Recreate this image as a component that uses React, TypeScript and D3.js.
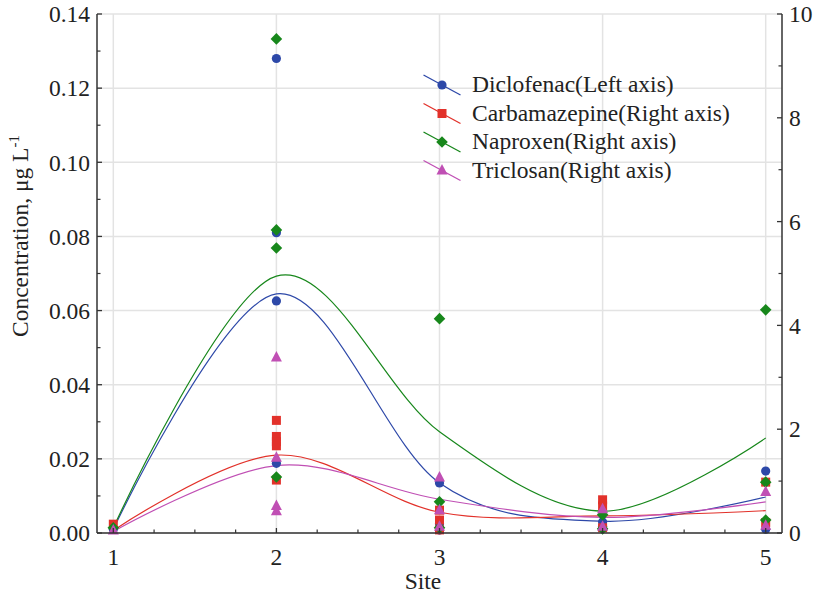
import React from "react";
import * as d3 from "d3";

const sites = [1, 2, 3, 4, 5];
const leftTicks = [0, 0.02, 0.04, 0.06, 0.08, 0.1, 0.12, 0.14];
const rightTicks = [0, 2, 4, 6, 8, 10];

// measured points per site (index 0 = site 1)
const diclofenacPts = [[0.001], [0.128, 0.081, 0.0626, 0.0188], [0.0135, 0.0025, 0.0008], [0.003, 0.0018], [0.0167, 0.001]];
const carbamazepinePts = [[0.17], [2.17, 1.86, 1.76, 1.68, 1.02], [0.44, 0.25, 0.06], [0.64, 0.52, 0.1], [0.98, 0.2]];
const naproxenPts = [[0.1], [9.52, 5.84, 5.49, 1.08], [4.13, 0.6, 0.1], [0.35, 0.08], [4.3, 0.98, 0.25]];
const triclosanPts = [[0.05], [3.38, 1.45, 0.52, 0.42], [1.07, 0.44, 0.12], [0.46, 0.12], [0.79, 0.14]];

// fitted curve values at each site
const diclofenacFit = [0.001, 0.0645, 0.0135, 0.0032, 0.0097];
const carbamazepineFit = [0.05, 1.5, 0.4, 0.33, 0.43];
const naproxenFit = [0.1, 4.95, 1.95, 0.42, 1.83];
const triclosanFit = [0.03, 1.3, 0.65, 0.3, 0.6];

const series = [
  { name: "Diclofenac(Left axis)", pts: diclofenacPts, fit: diclofenacFit, axis: "left", color: "#2d48a8", shape: "circle" },
  { name: "Carbamazepine(Right axis)", pts: carbamazepinePts, fit: carbamazepineFit, axis: "right", color: "#e2312a", shape: "square" },
  { name: "Naproxen(Right axis)", pts: naproxenPts, fit: naproxenFit, axis: "right", color: "#17871b", shape: "diamond" },
  { name: "Triclosan(Right axis)", pts: triclosanPts, fit: triclosanFit, axis: "right", color: "#c04fb4", shape: "triangle" },
];

const W = 817, H = 599;
const L = 97, R = 782, T = 14, B = 533;
const FONT = '"Liberation Serif", "Times New Roman", Times, serif';
const FS = 23.5;
const ts = { fontFamily: FONT };

function Marker({ shape, x, y, color }: any) {
  if (shape === "circle") return <circle cx={x} cy={y} r={4.6} fill={color} />;
  if (shape === "square") return <rect x={x - 4.5} y={y - 4.5} width={9} height={9} fill={color} />;
  if (shape === "diamond") return <path d={`M${x},${y - 5.8}L${x + 5.8},${y}L${x},${y + 5.8}L${x - 5.8},${y}Z`} fill={color} />;
  return <path d={`M${x},${y - 6.5}L${x + 5.5},${y + 4}L${x - 5.5},${y + 4}Z`} fill={color} />;
}

export default function App() {
  const x = d3.scaleLinear().domain([0.9, 5.1]).range([L, R]);
  const yL = d3.scaleLinear().domain([0, 0.14]).range([B, T]);
  const yR = d3.scaleLinear().domain([0, 10]).range([B, T]);
  const line = (ys: any) => d3.line<number>().x((_, i) => x(sites[i])).y((v) => ys(v)).curve(d3.curveCardinal.tension(0));
  const xMinor = d3.range(1, 5.01, 0.25).filter((v) => Math.abs(v - Math.round(v)) > 1e-6);
  const leftMinor = d3.range(0.01, 0.14, 0.02);
  const rightMinor = [1, 3, 5, 7, 9];
  const axisColor = "#333";
  const grid = "#e3e3e3";

  return (
    <svg width={W} height={H} style={{ position: "absolute", left: 0, top: 0, background: "#fff", fontFamily: FONT }}>
      <rect x={0} y={0} width={W} height={H} fill="#fff" />
      {leftTicks.map((t) => (
        <line key={"gh" + t} x1={L} x2={R} y1={yL(t)} y2={yL(t)} stroke={grid} strokeWidth={1.5} />
      ))}
      {sites.map((s) => (
        <line key={"gv" + s} x1={x(s)} x2={x(s)} y1={T} y2={B} stroke={grid} strokeWidth={1.5} />
      ))}
      {series.map((s) => (
        <path key={"c" + s.name} d={line(s.axis === "left" ? yL : yR)(s.fit) || ""} fill="none" stroke={s.color} strokeWidth={1.2} />
      ))}
      {series.map((s) =>
        s.pts.map((arr, i) =>
          arr.map((v, j) => (
            <Marker key={s.name + i + "_" + j} shape={s.shape} x={x(sites[i])} y={(s.axis === "left" ? yL : yR)(v)} color={s.color} />
          ))
        )
      )}
      <line x1={L} x2={L} y1={T} y2={B} stroke={axisColor} strokeWidth={1.5} />
      <line x1={R} x2={R} y1={T} y2={B} stroke={axisColor} strokeWidth={1.5} />
      <line x1={L} x2={R} y1={B} y2={B} stroke={axisColor} strokeWidth={1.5} />
      {leftTicks.map((t) => (
        <g key={"lt" + t}>
          <line x1={L} x2={L + 5} y1={yL(t)} y2={yL(t)} stroke={axisColor} strokeWidth={1.3} />
          <text style={ts} x={90} y={yL(t)} dy="0.35em" textAnchor="end" fontSize={FS} fill="#222">{t.toFixed(2)}</text>
        </g>
      ))}
      {leftMinor.map((t) => (
        <line key={"lm" + t} x1={L} x2={L + 3.5} y1={yL(t)} y2={yL(t)} stroke={axisColor} strokeWidth={1.2} />
      ))}
      {rightTicks.map((t) => (
        <g key={"rt" + t}>
          <line x1={R} x2={R - 5} y1={yR(t)} y2={yR(t)} stroke={axisColor} strokeWidth={1.3} />
          <text style={ts} x={789} y={yR(t)} dy="0.35em" textAnchor="start" fontSize={FS} fill="#222">{t}</text>
        </g>
      ))}
      {rightMinor.map((t) => (
        <line key={"rm" + t} x1={R} x2={R - 3.5} y1={yR(t)} y2={yR(t)} stroke={axisColor} strokeWidth={1.2} />
      ))}
      {sites.map((s) => (
        <g key={"xt" + s}>
          <line x1={x(s)} x2={x(s)} y1={B} y2={B - 5} stroke={axisColor} strokeWidth={1.3} />
          <text style={ts} x={x(s)} y={565} textAnchor="middle" fontSize={FS} fill="#222">{s}</text>
        </g>
      ))}
      {xMinor.map((t) => (
        <line key={"xm" + t} x1={x(t)} x2={x(t)} y1={B} y2={B - 3.5} stroke={axisColor} strokeWidth={1.2} />
      ))}
      <text style={ts} x={423} y={589} textAnchor="middle" fontSize={FS} fill="#222">Site</text>
      <text style={ts} transform={`translate(28,236) rotate(-90)`} textAnchor="middle" fontSize={FS} fill="#222">
        Concentration, μg L<tspan dy={-9} fontSize={15}>-1</tspan>
      </text>
      {series.map((s, i) => {
        const my = 85 + i * 28.5;
        const mx = 442;
        return (
          <g key={"lg" + s.name}>
            <line x1={mx - 18.5} y1={my - 10} x2={mx + 18.5} y2={my + 10} stroke={s.color} strokeWidth={1.3} />
            <Marker shape={s.shape} x={mx} y={my} color={s.color} />
            <text style={ts} x={472} y={my + 7} fontSize={FS} fill="#222">{s.name}</text>
          </g>
        );
      })}
    </svg>
  );
}
